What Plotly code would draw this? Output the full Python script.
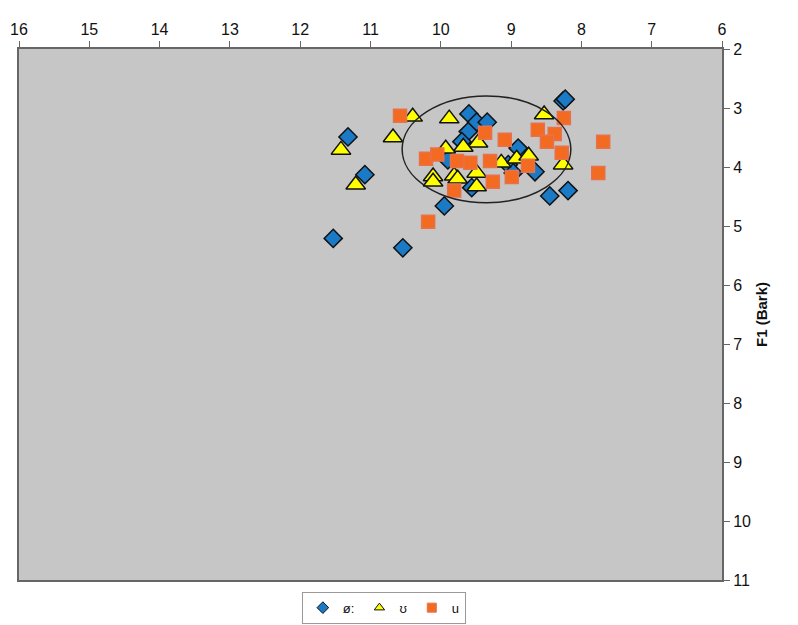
################################
# plot.py - F2/F1 vowel scatter (Bark)
################################

import plotly.graph_objects as go

################################
# Data
################################

# ø: (blue diamonds)
oe_f2 = [11.32, 8.26, 8.23, 9.60, 9.49, 9.34, 9.61, 9.70, 8.90, 11.08,
         8.66, 9.04, 8.45, 8.19, 9.95, 11.53, 10.54, 9.90, 9.56, 8.97]
oe_f1 = [3.49, 2.88, 2.85, 3.10, 3.24, 3.24, 3.40, 3.57, 3.68, 4.13,
         4.08, 3.96, 4.49, 4.40, 4.66, 5.21, 5.37, 3.88, 4.35, 4.10]

# ʊ (yellow triangles)
uh_f2 = [10.40, 9.88, 10.68, 11.42, 11.21, 8.53, 9.47, 9.68, 9.93, 10.11,
         10.11, 9.81, 9.76, 9.49, 9.49, 9.14, 8.92, 8.75, 8.26]
uh_f1 = [3.15, 3.18, 3.50, 3.71, 4.30, 3.11, 3.59, 3.66, 3.69, 4.16,
         4.25, 4.15, 4.20, 4.10, 4.33, 3.93, 3.86, 3.81, 3.96]

# u (orange squares)
u_f2 = [10.58, 9.37, 9.09, 8.62, 8.38, 8.49, 8.25, 8.28, 7.69, 7.76,
        10.21, 10.05, 9.77, 9.58, 9.30, 8.76, 8.99, 9.26, 9.81, 10.18]
u_f1 = [3.13, 3.42, 3.54, 3.37, 3.44, 3.57, 3.17, 3.76, 3.57, 4.10,
        3.86, 3.79, 3.90, 3.93, 3.90, 3.98, 4.17, 4.25, 4.40, 4.93]

# ellipse around the cluster (centre and half-axes, Bark)
ell_cx, ell_cy = 9.35, 3.70
ell_rx, ell_ry = 1.20, 0.905

x_ticks = list(range(6, 17))
y_ticks = list(range(2, 12))

series = [
    ("ø:", oe_f2, oe_f1, "diamond", 14, "#1a7ac6", "#111111"),
    ("ʊ", uh_f2, uh_f1, "triangle-up", 17, "#ffff00", "#111111"),
    ("u", u_f2, u_f1, "square", 13, "#f26b21", "#e8704a"),
]

################################
# Build figure
################################

fig = go.Figure()

for name, xs, ys, sym, size, fill, edge in series:
    # the actual points
    fig.add_trace(go.Scatter(
        x=xs, y=ys, mode="markers", name=name, showlegend=False,
        marker=dict(symbol=sym, size=size, color=fill,
                    line=dict(color=edge, width=1.5)),
    ))
    # small legend-only swatch, like the Excel legend
    fig.add_trace(go.Scatter(
        x=[None], y=[None], mode="markers", name=name,
        marker=dict(symbol=sym, size=9, color=fill,
                    line=dict(color=edge, width=1)),
    ))

fig.add_shape(
    type="circle", xref="x", yref="y",
    x0=ell_cx - ell_rx, x1=ell_cx + ell_rx,
    y0=ell_cy - ell_ry, y1=ell_cy + ell_ry,
    line=dict(color="#222222", width=1.5),
)

axis_font = dict(family="Liberation Sans, Arial, sans-serif", size=16, color="#111111")

# page body adds an 8px offset, so the figure is drawn 8px smaller
fig.update_layout(
    width=790, height=617,
    margin=dict(l=11, r=76, t=41, b=45, autoexpand=False),
    paper_bgcolor="white",
    plot_bgcolor="#c6c6c6",
    font=axis_font,
    showlegend=True,
    legend=dict(
        orientation="h", x=0.519, xanchor="center", y=-0.022, yanchor="top",
        bordercolor="#999999", borderwidth=1, bgcolor="white",
        font=dict(family="Liberation Sans, Arial, sans-serif", size=13),
        itemwidth=30, tracegroupgap=0,
    ),
    xaxis=dict(
        side="top", range=[16, 6], tickvals=x_ticks, automargin=False,
        ticks="outside", ticklen=6, tickcolor="#666666",
        showline=True, linecolor="#666666", linewidth=2, mirror=True,
        showgrid=False, zeroline=False, tickfont=axis_font,
    ),
    yaxis=dict(
        side="right", range=[11, 2], tickvals=y_ticks, automargin=False,
        ticks="outside", ticklen=6, tickcolor="#666666",
        showline=True, linecolor="#666666", linewidth=2, mirror=True,
        showgrid=False, zeroline=False, tickfont=axis_font,
        title=dict(text="<b>F1 (Bark)</b>", font=dict(size=15), standoff=6),
    ),
)

fig.write_html("out.html")
